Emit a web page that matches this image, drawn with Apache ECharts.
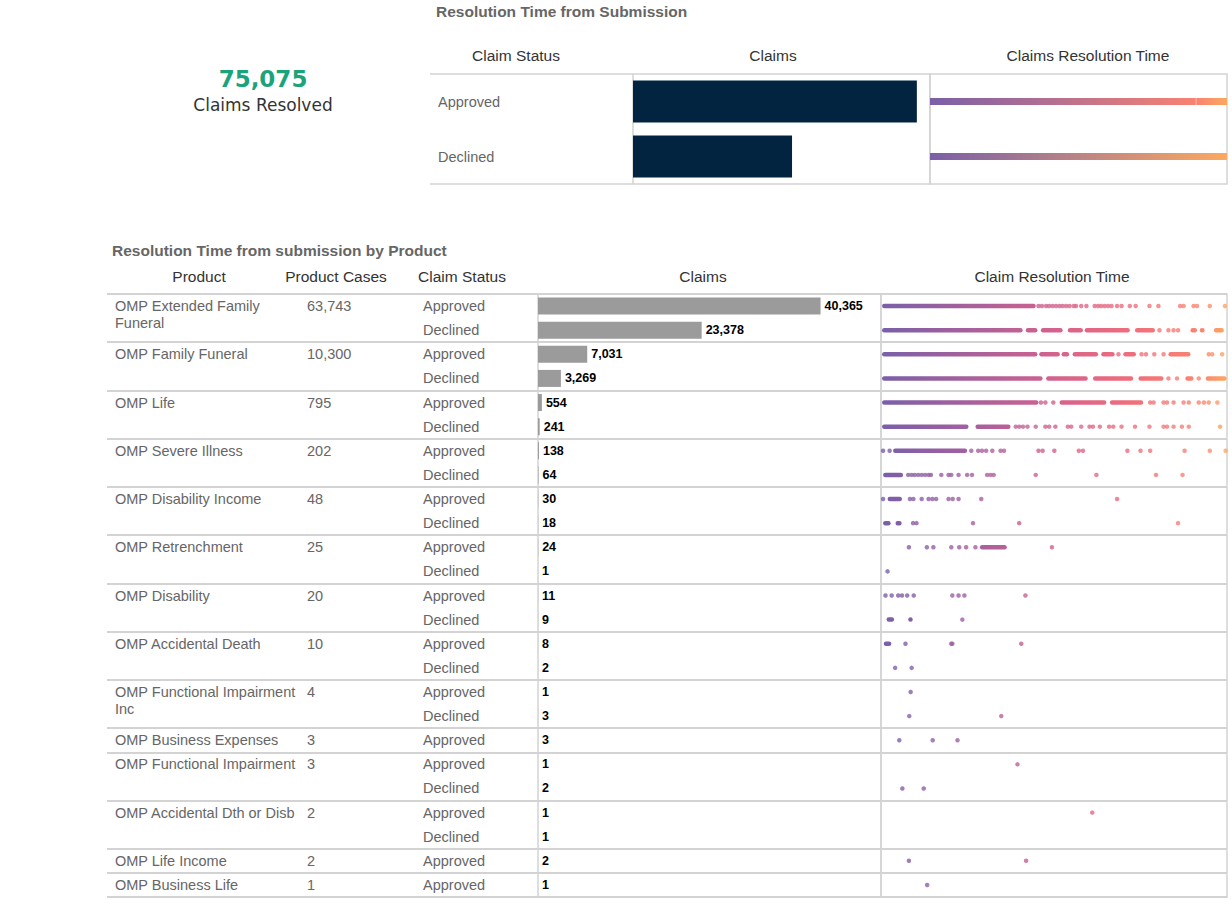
<!DOCTYPE html>
<html>
<head>
<meta charset="utf-8">
<title>Resolution Time from Submission</title>
<script src="https://cdn.jsdelivr.net/npm/echarts@6/dist/echarts.min.js"></script>
<style>
  html, body { margin: 0; padding: 0; background: #fff; }
  #chart { width: 1232px; height: 908px; }
</style>
</head>
<body>
<div id="chart"></div>
<script>
// ---- data ----
var claimsResolved = 75075;

var summaryStatus = ['Approved', 'Declined'];
var summaryClaims = [48170, 26988];
// resolution time on a 0..100 scale (left edge of panel = 0)
var summaryRuns = [
  [[0, 89.5], [89.65, 100]],
  [[0, 100]]
];

var products = ['OMP Extended Family\nFuneral', 'OMP Family Funeral', 'OMP Life', 'OMP Severe Illness',
  'OMP Disability Income', 'OMP Retrenchment', 'OMP Disability', 'OMP Accidental Death',
  'OMP Functional Impairment\nInc', 'OMP Business Expenses', 'OMP Functional Impairment',
  'OMP Accidental Dth or Disb', 'OMP Life Income', 'OMP Business Life'];
var productCases = [63743, 10300, 795, 202, 48, 25, 20, 10, 4, 3, 3, 2, 2, 1];
var approvedClaims = [40365, 7031, 554, 138, 30, 24, 11, 8, 1, 3, 1, 1, 2, 1];
var declinedClaims = [23378, 3269, 241, 64, 18, 1, 9, 2, 3, null, 2, 1, null, null];

// dense stretches of resolution times [from, to] and single resolution times
var approvedRuns = [
  [[0, 44.6]],
  [[0, 45.1], [45.6, 51.6], [52.1, 54.3], [55.3, 62.7], [63.6, 67.5], [70.0, 73.7], [83.1, 89.5]],
  [[0, 45.4], [51.5, 65.1], [66.1, 75.8]],
  [[3.2, 24.7]],
  [[1.6, 5.8]],
  [[28.4, 36.2]],
  [], [[0.5, 2.7]], [], [], [], [], [], []
];
var approvedDots = [
  [45.4, 46.4, 47.6, 48.5, 49.5, 50.5, 51.5, 52.4, 53.4, 54.4, 55.6, 56.3, 57.8, 59.3, 61.7, 62.7, 63.6,
   64.6, 65.6, 66.6, 68.2, 69.5, 71.9, 73.6, 77.6, 80.2, 86.5, 87.5, 90.4, 91.4, 95.1, 99.5],
  [68.6, 75.3, 76.6, 79.0, 81.7, 94.8, 95.8, 98.7],
  [46.1, 47.4, 49.7, 77.8, 78.8, 81.7, 82.7, 84.6, 87.5, 89.0, 91.9, 93.4, 94.8, 97.3],
  [0.3, 2.2, 25.9, 27.9, 29.0, 30.2, 32.0, 34.4, 35.4, 45.4, 46.6, 50.0, 57.1, 58.3, 71.2, 75.0, 77.8, 87.8, 95.1, 99.7],
  [0.3, 8.1, 9.1, 11.5, 13.5, 14.6, 15.7, 19.3, 20.5, 22.2, 28.8, 68.2],
  [7.8, 13.0, 14.9, 20.1, 22.4, 24.4, 27.1, 49.3],
  [1.0, 2.8, 4.7, 5.8, 7.3, 9.2, 20.4, 22.2, 23.9, 41.6],
  [6.8, 20.1, 20.4, 40.4],
  [8.3],
  [5.0, 14.7, 21.9],
  [39.3],
  [61.0],
  [7.8, 41.8],
  [13.1]
];
var declinedRuns = [
  [[0, 40.8], [41.7, 45.1], [46.1, 52.4], [53.9, 58.3], [58.8, 71.9], [73.4, 79.2], [89.5, 91.4], [92.2, 93.6], [96.3, 99.2]],
  [[0, 46.6], [47.6, 59.7], [61.2, 72.9], [74.4, 81.7], [88.0, 90.4], [93.9, 100]],
  [[0, 25.1], [27.1, 37.3]],
  [[0.3, 6.1]],
  [[0.3, 2.5], [3.9, 5.7]],
  [],
  [[1.3, 3.5], [7.6, 8.9]],
  [], [], [], [], [], [], []
];
var declinedDots = [
  [80.5, 83.1, 84.6, 85.9],
  [83.1, 85.6, 91.9],
  [38.8, 39.8, 40.9, 42.2, 44.6, 47.4, 48.5, 50.3, 53.9, 54.9, 57.8, 60.2, 61.2, 63.2, 65.9, 67.1, 69.5,
   73.4, 77.6, 81.7, 82.7, 84.6, 87.0, 89.0, 98.1],
  [7.6, 8.6, 9.5, 10.5, 11.5, 12.5, 13.5, 14.2, 17.2, 19.3, 20.1, 22.2, 24.7, 26.1, 30.5, 31.5, 32.4, 44.6, 62.2, 79.5, 87.2],
  [9.0, 10.0, 26.4, 39.8, 85.9],
  [1.6],
  [23.3],
  [3.8, 8.6],
  [7.9, 34.6],
  [],
  [5.9, 12.1],
  [],
  [],
  []
];

// ---- build the table rows ----
var rows = [];
products.forEach(function (p, i) {
  var first = true;
  [['Approved', approvedClaims[i], approvedRuns[i], approvedDots[i]],
   ['Declined', declinedClaims[i], declinedRuns[i], declinedDots[i]]].forEach(function (s) {
    if (s[1] == null) return;
    rows.push({
      status: s[0], claims: s[1], runs: s[2] || [], dots: s[3] || [],
      product: first ? p : '', cases: first ? productCases[i] : '', start: first
    });
    first = false;
  });
});

var font = 'Liberation Sans, Arial, sans-serif';
var lineColor = '#d3d3d3';
// colour ramp of the resolution time (stop, colour)
var resStops = [[0, '#7a5fa8'], [0.25, '#a35fa1'], [0.5, '#d4628d'], [0.72, '#ef6d7c'], [0.93, '#fb8670'], [1, '#fca860']];

function resColor(v) {
  var t = Math.max(0, Math.min(1, v / 100));
  for (var i = 1; i < resStops.length; i++) {
    if (t <= resStops[i][0]) {
      var a = resStops[i - 1], b = resStops[i];
      return echarts.color.lerp((t - a[0]) / (b[0] - a[0]), [a[1], b[1]]);
    }
  }
  return resStops[resStops.length - 1][1];
}
function fmt(n) {
  return n === '' ? '' : echarts.format.addCommas(n);
}
function groupStart(index) {
  return !!(rows[index] && rows[index].start);
}

function runRenderer(thickness, round) {
  return function (params, api) {
    var a = api.value(0), b = api.value(1), r = api.value(2);
    var p0 = api.coord([a, r]), p1 = api.coord([b, r]);
    return {
      type: 'rect',
      shape: { x: p0[0], y: p0[1] - thickness / 2, width: Math.max(p1[0] - p0[0], thickness), height: thickness, r: round ? thickness / 2 : 0 },
      style: {
        fill: new echarts.graphic.LinearGradient(0, 0, 1, 0, [
          { offset: 0, color: resColor(a) }, { offset: 1, color: resColor(b) }
        ])
      }
    };
  };
}

var runData = [], dotData = [];
rows.forEach(function (r, i) {
  r.runs.forEach(function (s) { runData.push([s[0], s[1], i]); });
  r.dots.forEach(function (d) { dotData.push([d, i]); });
});
var summaryRunData = [];
summaryRuns.forEach(function (list, i) {
  list.forEach(function (s) { summaryRunData.push([s[0], s[1], i]); });
});

function labelAxis(data, margin, extra) {
  return {
    type: 'category', gridIndex: 0, position: 'left', offset: 0, inverse: true, data: data,
    axisLine: { show: false }, axisTick: { show: false },
    axisLabel: Object.assign({
      inside: true, align: 'left', margin: margin, interval: 0,
      color: '#666', fontSize: 14.5, fontFamily: font, lineHeight: 17
    }, extra || {}),
    splitLine: { show: false }
  };
}
var groupLines = { show: true, interval: groupStart, lineStyle: { color: lineColor, width: 2 } };

function text(x, y, str, size, color, align, weight, family) {
  return {
    type: 'text', x: x, y: y, silent: true,
    style: {
      text: str, fill: color, fontSize: size, fontWeight: weight || 'normal',
      fontFamily: family || font, align: align, verticalAlign: 'middle',
      textAlign: align, textVerticalAlign: 'middle'
    }
  };
}
function hline(x1, x2, y) {
  return { type: 'line', silent: true, shape: { x1: x1, y1: y, x2: x2, y2: y }, style: { stroke: lineColor, lineWidth: 1.5 } };
}

var statusAxis = labelAxis(rows.map(function (r) { return r.status; }), 316);
statusAxis.splitLine = groupLines;

var chart = echarts.init(document.getElementById('chart'), null, { renderer: 'svg' });

chart.setOption({
  animation: false,
  backgroundColor: '#fff',
  grid: [
    { left: 107, top: 294, width: 431, height: 603, outerBoundsMode: 'none' },
    { left: 538, top: 294, width: 343, height: 603, show: true, borderColor: lineColor, borderWidth: 1.5, outerBoundsMode: 'none' },
    { left: 881, top: 294, width: 346, height: 603, show: true, borderColor: lineColor, borderWidth: 1.5, outerBoundsMode: 'none' },
    { left: 633, top: 74, width: 297, height: 110, show: true, borderColor: lineColor, borderWidth: 1.5, outerBoundsMode: 'none' },
    { left: 930, top: 74, width: 297, height: 110, show: true, borderColor: lineColor, borderWidth: 1.5, outerBoundsMode: 'none' }
  ],
  xAxis: [
    { type: 'value', gridIndex: 0, min: 0, max: 1, show: false },
    { type: 'value', gridIndex: 1, min: 0, max: 49000, show: false },
    { type: 'value', gridIndex: 2, min: -0.3, max: 100.1, show: false },
    { type: 'value', gridIndex: 3, min: 0, max: 50400, show: false },
    { type: 'value', gridIndex: 4, min: 0, max: 100, show: false }
  ],
  yAxis: [
    statusAxis,
    labelAxis(rows.map(function (r) { return r.product; }), 8, {
      formatter: function (v) { return v.indexOf('\n') >= 0 ? '\n' + v : v; }
    }),
    labelAxis(rows.map(function (r) { return fmt(r.cases); }), 200),
    { type: 'category', gridIndex: 1, position: 'left', inverse: true, data: rows.map(function (r) { return r.status; }),
      axisLine: { show: false }, axisTick: { show: false }, axisLabel: { show: false }, splitLine: groupLines },
    { type: 'category', gridIndex: 2, position: 'left', inverse: true, data: rows.map(function (r) { return r.status; }),
      axisLine: { show: false }, axisTick: { show: false }, axisLabel: { show: false }, splitLine: groupLines },
    { type: 'category', gridIndex: 3, position: 'left', inverse: true, data: summaryStatus,
      axisLine: { show: false }, axisTick: { show: false },
      axisLabel: { align: 'left', margin: 195, color: '#666', fontSize: 14.5, fontFamily: font } },
    { type: 'category', gridIndex: 4, position: 'left', inverse: true, data: summaryStatus, show: false }
  ],
  series: [
    {
      type: 'bar', xAxisIndex: 1, yAxisIndex: 3, barWidth: 17,
      data: rows.map(function (r) { return r.claims; }),
      itemStyle: { color: '#9b9b9b' },
      label: {
        show: true, position: 'right', distance: 4, color: '#000', fontWeight: 'bold',
        fontSize: 12.5, fontFamily: font,
        formatter: function (p) { return fmt(p.value); }
      }
    },
    {
      type: 'custom', xAxisIndex: 2, yAxisIndex: 4, clip: false,
      renderItem: runRenderer(4.5, true),
      encode: { x: [0, 1], y: 2 },
      data: runData
    },
    {
      type: 'scatter', xAxisIndex: 2, yAxisIndex: 4, symbolSize: 4.5,
      itemStyle: { color: function (p) { return resColor(p.value[0]); } },
      data: dotData
    },
    {
      type: 'bar', xAxisIndex: 3, yAxisIndex: 5, barWidth: 42,
      data: summaryClaims, itemStyle: { color: '#032440' }
    },
    {
      type: 'custom', xAxisIndex: 4, yAxisIndex: 6, clip: false,
      renderItem: runRenderer(7, false),
      encode: { x: [0, 1], y: 2 },
      data: summaryRunData
    }
  ],
  graphic: [
    text(436, 11, 'Resolution Time from Submission', 15.5, '#666', 'left', 'bold'),
    text(263, 79, fmt(claimsResolved), 23, '#1ba37c', 'center', 'bold', 'DejaVu Sans'),
    text(263, 105, 'Claims Resolved', 17, '#333', 'center', 'normal', 'DejaVu Sans'),
    text(516, 55, 'Claim Status', 15.5, '#333', 'center'),
    text(773, 55, 'Claims', 15.5, '#333', 'center'),
    text(1088, 55, 'Claims Resolution Time', 15.5, '#333', 'center'),
    hline(430, 633, 74),
    hline(430, 633, 184),
    text(112, 250, 'Resolution Time from submission by Product', 15.5, '#666', 'left', 'bold'),
    text(199, 276, 'Product', 15.5, '#333', 'center'),
    text(336, 276, 'Product Cases', 15.5, '#333', 'center'),
    text(462, 276, 'Claim Status', 15.5, '#333', 'center'),
    text(703, 276, 'Claims', 15.5, '#333', 'center'),
    text(1052, 276, 'Claim Resolution Time', 15.5, '#333', 'center')
  ]
});
</script>
</body>
</html>
